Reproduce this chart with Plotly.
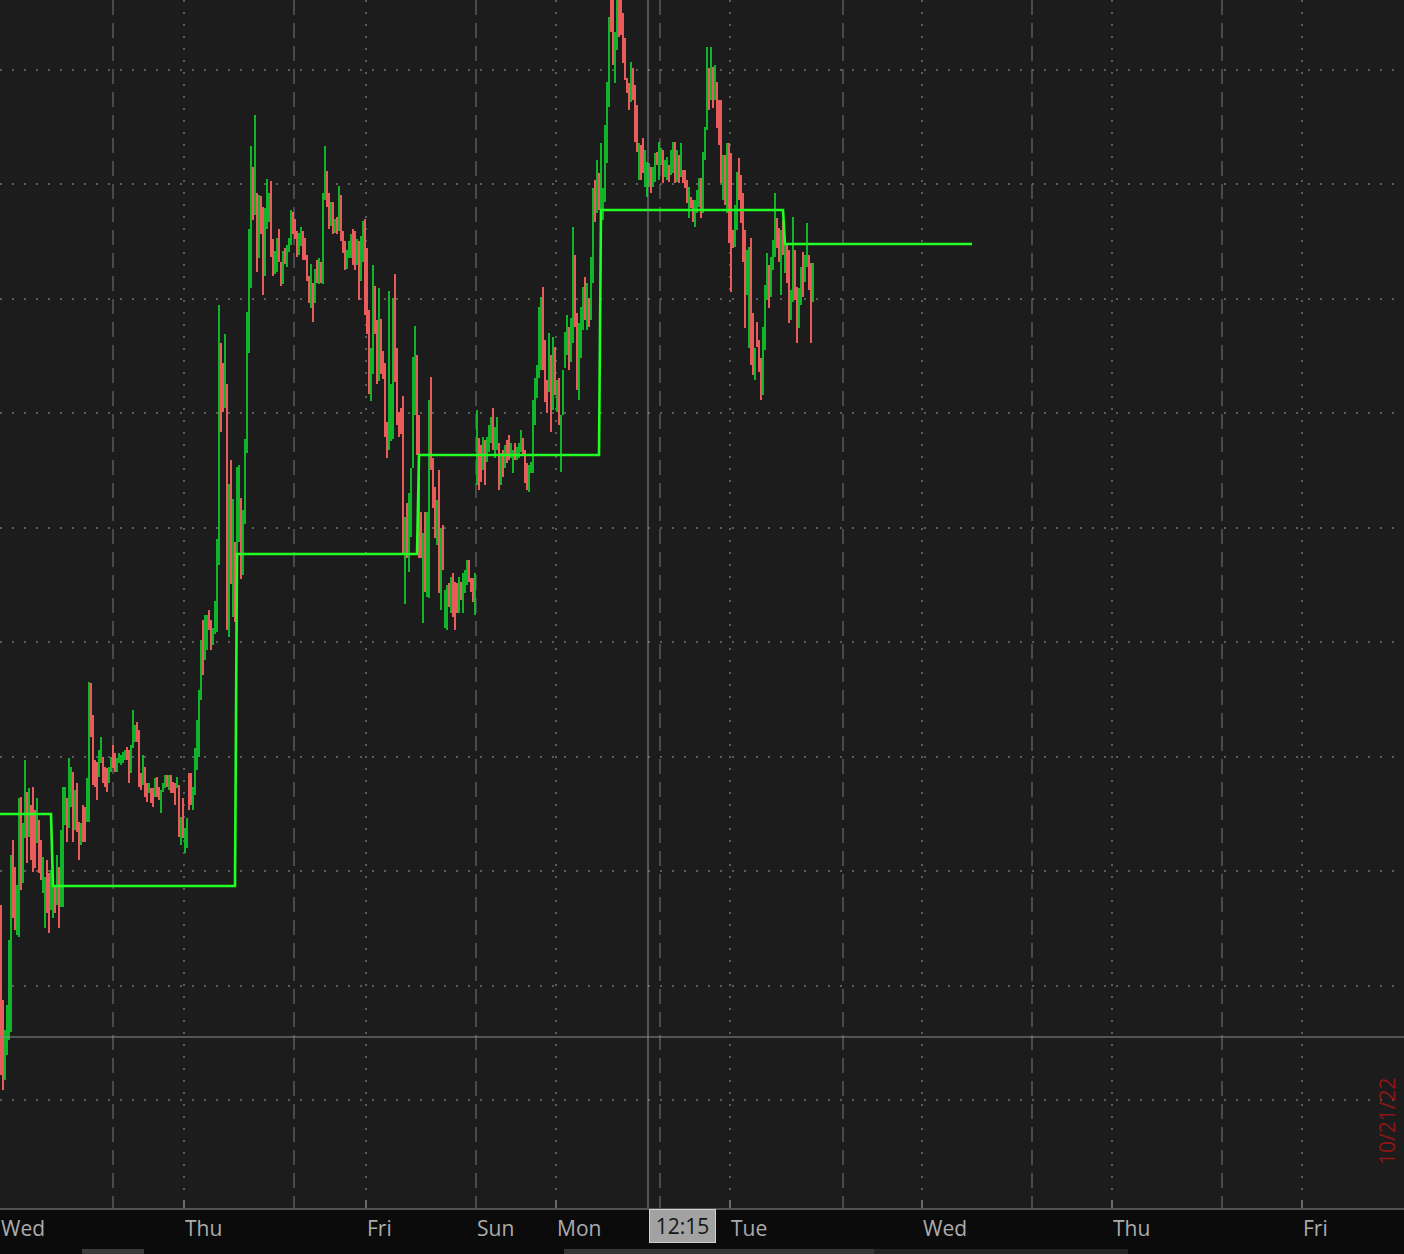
import plotly.graph_objects as go

# ---------------- data (15-minute bars, price units) ----------------
wed_open = [34.5, 25.0, 17.0, 19.5, 21.0, 21.8, 41.0, 38.3, 31.5, 31.3,
            45.3, 36.7, 41.2, 45.8, 41.3, 44.5, 46.3, 44.0, 40.7, 43.0,
            41.0, 35.7, 32.2, 39.0, 37.7, 34.0, 33.2, 36.3, 34.5, 38.3,
            34.3, 34.3, 42.5, 45.2, 42.2, 44.3, 47.8, 42.0, 46.7, 42.8,
            40.5, 44.5, 44.3, 42.8, 42.8, 56.7, 53.5, 49.0, 48.8, 47.3,
            48.7, 49.3, 48.3, 48.2, 46.7, 47.8, 50.5, 49.7, 47.8, 48.7,
            48.5, 48.7, 49.0, 50.3, 50.0, 47.7, 50.2, 50.8, 52.8, 52.0,
            47.7, 46.5, 48.3, 46.7, 45.7, 46.2, 46.2, 45.3, 47.3, 46.3,
            43.7, 45.8, 46.2, 47.5, 46.0, 47.5, 46.8, 46.7, 46.2, 46.5,
            40.5, 45.2]
wed_close = [17.5, 16.0, 22.0, 24.5, 31.0, 39.5, 33.2, 32.0, 36.5, 45.2,
             36.0, 42.7, 49.0, 38.7, 46.2, 39.0, 37.8, 38.2, 45.2, 37.7,
             37.0, 39.3, 37.3, 33.7, 31.7, 38.0, 37.7, 33.7, 39.5, 32.2,
             42.0, 46.3, 46.3, 40.8, 49.2, 48.3, 40.8, 46.0, 41.8, 39.0,
             42.7, 40.8, 40.8, 47.2, 56.8, 51.3, 46.5, 46.3, 45.0, 50.0,
             51.3, 46.7, 46.3, 45.8, 48.3, 49.3, 48.2, 47.8, 49.2, 49.7,
             49.5, 49.8, 50.0, 49.0, 46.7, 50.5, 54.0, 52.5, 50.8, 46.3,
             46.0, 49.5, 45.3, 44.8, 46.7, 44.7, 44.3, 47.2, 45.3, 45.0,
             46.0, 46.7, 47.5, 46.3, 47.5, 45.7, 45.7, 44.5, 47.3, 41.3,
             43.3, 41.2]

thu_open = [39.7, 40.2, 47.7, 47.7, 44.0, 45.5, 48.0, 49.3, 55.0, 63.0,
            59.0, 60.0, 64.0, 63.0, 60.5, 61.6, 61.8, 68.5, 90.7, 88.7,
            84.2, 86.6, 61.3, 79.0, 63.3, 70.8, 65.2, 70.8, 75.2, 67.5,
            72.6, 79.7, 89.7, 96.2, 108.3, 103.5, 105.7, 99.2, 105.4, 104.3,
            97.4, 102.1, 102.8, 106.9, 101.1, 97.6, 97.8, 102.1, 98.8, 96.6,
            100.2, 98.3, 99.8, 100.5, 103.8, 103.1, 101.9, 99.5, 100.4, 101.9,
            101.2, 99.5, 97.4, 94.2, 96.7, 94.7, 99.0, 96.6, 98.8, 96.6,
            105.0, 107.9, 105.7, 102.4, 104.8, 101.7, 103.3, 101.9, 105.5, 101.9,
            100.9, 98.1, 99.2, 99.2, 102.1, 101.9, 98.5, 100.9, 96.9, 98.8,
            103.1]
thu_close = [42.2, 43.2, 44.0, 44.5, 46.3, 50.2, 53.0, 56.0, 61.0, 57.5,
             63.5, 63.5, 62.0, 60.0, 62.2, 64.9, 71.1, 94.5, 81.8, 83.8,
             91.6, 62.0, 76.6, 66.6, 75.1, 62.8, 78.3, 78.5, 67.1, 74.0,
             81.1, 93.8, 102.1, 110.4, 103.0, 113.5, 97.8, 105.5, 101.6, 95.5,
             104.2, 107.1, 105.7, 99.3, 97.4, 99.9, 101.2, 98.8, 96.4, 99.9,
             98.6, 100.5, 101.2, 104.0, 101.6, 101.1, 99.3, 101.7, 102.3, 99.0,
             99.0, 96.9, 94.7, 98.6, 92.8, 98.1, 96.7, 99.2, 96.7, 105.7,
             110.4, 104.3, 102.1, 104.8, 101.6, 103.1, 101.6, 106.4, 100.9, 99.7,
             98.0, 100.0, 100.9, 101.6, 98.5, 98.0, 101.1, 95.0, 101.4, 102.9,
             93.5]

fri_open = [100.2, 94.0, 84.9, 87.6, 96.4, 93.0, 86.9, 93.1, 89.9, 88.7,
            82.8, 80.0, 80.9, 81.1, 97.6, 90.2, 83.8, 84.2, 85.4, 64.6,
            74.7, 67.8, 71.3, 78.2, 83.5, 89.5, 83.5, 73.8, 62.7, 73.8,
            65.3, 65.2, 87.3, 79.2, 76.3, 70.5, 78.0, 64.0, 72.5, 62.2,
            62.0, 66.7, 63.7, 67.7, 66.8, 66.7, 63.7, 66.8, 63.7, 65.7,
            66.5, 69.0, 67.2, 67.2, 63.5]
fri_close = [91.6, 85.6, 90.2, 98.5, 91.6, 86.6, 96.2, 87.6, 87.1, 81.3,
             79.2, 95.9, 86.6, 95.2, 86.8, 82.5, 81.3, 81.6, 69.5, 73.3,
             69.2, 75.7, 78.2, 89.3, 92.4, 79.5, 69.2, 69.2, 71.7, 65.8,
             73.8, 85.0, 78.0, 74.2, 71.2, 75.0, 65.7, 72.2, 68.0, 66.0,
             66.5, 64.3, 67.3, 63.3, 62.0, 63.7, 67.3, 65.0, 67.7, 68.0,
             69.0, 66.8, 65.8, 64.8, 67.7]

sun_open = [76.5, 81.2, 80.5, 78.0, 81.0, 78.8, 79.8, 80.7, 84.2, 79.2,
            80.0, 80.7, 76.5, 80.0, 78.2, 81.0, 81.5, 79.2, 77.7, 80.7,
            79.0, 79.2, 79.8, 81.2, 80.0, 78.7, 75.8, 77.7, 77.7, 82.5,
            85.2, 87.2, 88.0, 96.3, 91.0, 87.0, 85.8, 89.5, 84.0, 90.3]
sun_close = [84.0, 76.0, 76.8, 81.3, 76.5, 81.3, 82.5, 83.3, 80.0, 82.3,
             83.3, 76.0, 79.7, 77.3, 80.5, 78.7, 79.0, 80.7, 80.0, 79.0,
             80.3, 80.7, 82.0, 79.5, 76.7, 76.0, 78.5, 78.8, 85.0, 87.2,
             88.5, 94.3, 95.3, 88.0, 84.8, 83.7, 91.7, 81.8, 91.3, 85.5]

mon_open = [83.8, 87.2, 77.8, 83.5, 88.2, 89.5, 92.3, 88.8, 90.7, 99.5,
            93.7, 85.0, 89.2, 92.0, 97.3, 92.0, 95.2, 93.0, 96.7, 107.0,
            103.7, 107.7, 103.2, 103.0, 104.8, 108.7, 114.3, 126.5, 125.5, 116.7,
            120.0, 125.5, 125.0, 123.7, 121.2, 117.2, 116.7, 114.8, 118.2, 116.5,
            114.5, 107.0, 110.5, 111.2, 106.3, 105.3, 106.3, 108.3, 106.3, 106.8,
            109.8, 107.0, 108.5, 110.0, 107.3, 107.0, 108.5, 107.5, 107.7, 110.8,
            106.8, 109.5, 107.3, 108.0, 108.0, 107.0, 103.2, 105.3, 105.0, 102.3,
            103.7, 104.3, 107.2, 103.7, 109.0, 112.0, 118.2, 115.0, 118.3, 115.0,
            116.8, 115.0, 115.0, 105.0, 109.5, 103.7, 110.7]
mon_close = [87.0, 82.5, 83.5, 88.0, 91.8, 93.5, 88.0, 93.2, 102.3, 92.3,
             86.0, 92.7, 94.3, 96.3, 93.0, 96.7, 92.3, 99.3, 106.2, 102.8,
             109.0, 104.0, 110.7, 106.2, 112.5, 116.8, 123.3, 121.8, 118.5, 121.8,
             126.0, 121.3, 121.5, 118.7, 117.0, 115.7, 114.0, 118.8, 115.0, 110.8,
             109.8, 110.7, 107.0, 107.7, 110.0, 108.8, 108.7, 105.7, 108.3, 109.7,
             108.5, 110.8, 110.2, 106.7, 109.0, 109.3, 106.8, 110.0, 110.8, 106.7,
             110.0, 106.7, 110.7, 106.7, 106.2, 104.7, 106.3, 104.2, 102.8, 105.0,
             106.0, 107.2, 103.2, 109.8, 112.3, 120.3, 114.0, 120.3, 114.2, 118.5,
             112.2, 110.5, 106.7, 109.5, 104.5, 110.7, 100.7]

tue_open = [109.7, 102.0, 100.3, 102.0, 109.2, 107.5, 105.7, 102.0, 95.5, 90.2,
            101.2, 93.7, 87.0, 92.8, 91.0, 89.2, 85.5, 90.0, 95.0, 98.5,
            95.3, 98.0, 99.3, 103.2, 102.2, 95.5, 103.0, 97.7, 100.7, 100.0,
            93.0, 94.8, 100.0, 96.3, 92.2, 94.5, 99.8, 96.8, 98.3, 99.5,
            98.7, 94.8]
tue_close = [95.8, 100.2, 104.5, 107.8, 105.0, 102.7, 98.8, 92.2, 100.0, 100.3,
             88.5, 87.5, 90.2, 90.3, 87.8, 85.0, 92.3, 96.5, 99.7, 94.2,
             99.3, 101.0, 105.7, 100.2, 98.8, 102.0, 99.5, 100.8, 96.7, 92.7,
             96.0, 103.3, 95.0, 90.7, 96.2, 98.3, 95.3, 99.5, 102.7, 96.0,
             90.7, 98.7]

# session reference level (step line) and the bars where it changes
session_levels = [43.6, 36.4, 69.6, 79.5, 104.0, 100.6]
session_change_bars = [26, 118, 209, 300, 392]
level_first_bar, level_last_bar = -0.5, 485.5

# time axis (bar numbers)
day_names = ["Wed", "Thu", "Fri", "Sun", "Mon", "Tue", "Wed", "Thu", "Fri"]
day_bars = [-0.5, 91.65, 182.65, 237.5, 277.65, 364.65, 460.5, 555.5, 650.5]
day_grid_bars = [91.65, 182.65, 277.65, 364.65, 460.5, 555.5, 650.5]
midday_bars = [55.75, 146.65, 237.5, 329.5, 421.0, 515.5, 610.5]
x_window = [-0.5, 701.5]

# price axis
price_window = [4.2, 125.0]
price_grid_start, price_grid_step = 118.0, 11.445

# cursor
cursor_bar, cursor_price, cursor_label = 323.5, 21.3, "12:15"
side_date = "10/21/22"

# ---------------- build ----------------
opens = wed_open + thu_open + fri_open + sun_open + mon_open + tue_open
closes = wed_close + thu_close + fri_close + sun_close + mon_close + tue_close
assert len(opens) == len(closes)
highs = [max(o, c) for o, c in zip(opens, closes)]
lows = [min(o, c) for o, c in zip(opens, closes)]
bars = list(range(len(opens)))

step_x = [level_first_bar]
step_y = [session_levels[0]]
for i, cb in enumerate(session_change_bars):
    step_x += [cb - 1, cb]
    step_y += [session_levels[i], session_levels[i + 1]]
step_x.append(level_last_bar)
step_y.append(session_levels[-1])

UP = "#10bd2a"
DOWN = "#f55f5f"
LEVEL = "#22ff22"

fig = go.Figure()
fig.add_trace(go.Ohlc(
    x=bars, open=opens, high=highs, low=lows, close=closes,
    tickwidth=0,
    increasing=dict(line=dict(color=UP, width=1.9)),
    decreasing=dict(line=dict(color=DOWN, width=1.9)),
    hoverinfo="skip",
))
fig.add_trace(go.Scatter(
    x=step_x, y=step_y, mode="lines",
    line=dict(color=LEVEL, width=2.6), hoverinfo="skip",
))

annotations = []
for name, b in zip(day_names, day_bars):
    annotations.append(dict(
        x=b, xref="x", y=-0.0166, yref="paper", text=name, showarrow=False,
        xanchor="left", yanchor="middle", xshift=-1,
        font=dict(family="Open Sans", size=21, color="#acacac"),
    ))
annotations.append(dict(
    x=cursor_bar, xref="x", y=-0.0153, yref="paper", text=cursor_label,
    showarrow=False, xanchor="left", yanchor="middle", xshift=1,
    bgcolor="#a2a2a2", bordercolor="#d0d0d0", borderwidth=1, borderpad=2,
    width=61, align="center",
    font=dict(family="Open Sans", size=21, color="#151515"),
))
annotations.append(dict(
    x=1.0, xref="paper", y=0.0712, yref="paper", text=side_date,
    showarrow=False, textangle=-90, xanchor="right", yanchor="middle",
    xshift=-1,
    font=dict(family="Open Sans", size=21, color="#8e1616"),
))

shapes = [
    dict(type="line", xref="x", yref="paper", x0=cursor_bar, x1=cursor_bar,
         y0=0, y1=1, line=dict(color="#8c8c8c", width=1), layer="above"),
    dict(type="line", xref="paper", yref="y", x0=0, x1=1,
         y0=cursor_price, y1=cursor_price, line=dict(color="#8c8c8c", width=1),
         layer="above"),
    # scrollbar strip at the very bottom
    dict(type="rect", xref="paper", yref="paper", x0=82 / 1404, x1=144 / 1404,
         y0=-0.0390, y1=-0.0340, fillcolor="#3a3a3a", line=dict(width=0)),
    dict(type="rect", xref="paper", yref="paper", x0=564 / 1404, x1=874 / 1404,
         y0=-0.0390, y1=-0.0340, fillcolor="#353535", line=dict(width=0)),
    dict(type="rect", xref="paper", yref="paper", x0=874 / 1404, x1=1128 / 1404,
         y0=-0.0390, y1=-0.0340, fillcolor="#232323", line=dict(width=0)),
]

fig.update_layout(
    width=1404, height=1254,
    margin=dict(l=0, r=0, t=0, b=46),
    paper_bgcolor="#0b0b0b", plot_bgcolor="#1c1c1c",
    showlegend=False,
    annotations=annotations, shapes=shapes,
    xaxis=dict(
        range=x_window, tickmode="array", tickvals=day_grid_bars,
        showticklabels=False, showgrid=True, gridcolor="#5c5c5c",
        gridwidth=1.5, griddash="2px,10px",
        ticks="inside", ticklen=8, tickcolor="#6a6a6a", tickwidth=1.5,
        minor=dict(tickmode="array", tickvals=midday_bars, showgrid=True,
                   gridcolor="#4a4a4a", gridwidth=2, griddash="15px,8px"),
        showline=True, linecolor="#525252", linewidth=2, zeroline=False,
        rangeslider=dict(visible=False),
    ),
    yaxis=dict(
        range=price_window, tick0=price_grid_start, dtick=price_grid_step,
        showticklabels=False, showgrid=True, gridcolor="#5c5c5c",
        gridwidth=1.5, griddash="2px,10px", zeroline=False,
    ),
)

fig.write_html(
    "out.html",
    config={"displayModeBar": False},
    post_script="document.body.style.margin='0';document.body.style.overflow='hidden';",
)
